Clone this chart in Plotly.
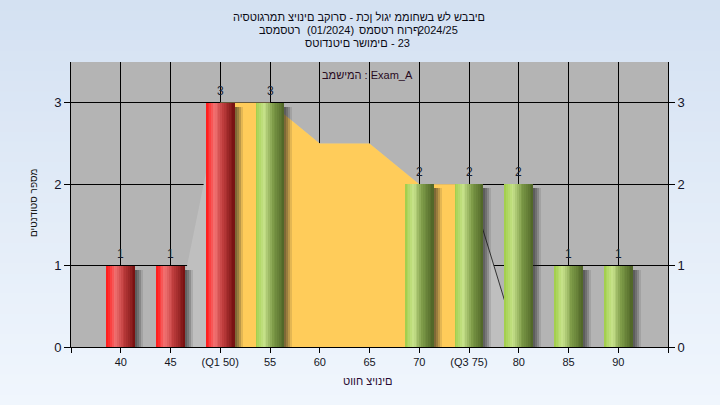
import plotly.graph_objects as go

# ---------------- data ----------------
grades = [40, 45, 50, 55, 60, 65, 70, 75, 80, 85, 90]
tick_labels = ["40", "45", "(Q1 50)", "55", "60", "65", "70", "(Q3 75)", "80", "85", "90"]
counts = [1, 1, 3, 3, 0, 0, 2, 2, 2, 1, 1]
q1 = 50
q3 = 75
iqr_x = [50, 55, 60, 65, 70, 75]
iqr_y = [3, 3, 2.5, 2.5, 2, 2]
spread_x = [45, 50, 55, 60, 65, 70, 75, 80]
spread_y = [0, 3, 3, 2.5, 2.5, 2, 2, 0]

title_line1 = "היסטוגרמת ציונים בקורס - תכן לוגי ממוחשב של שבבים"
title_line2 = ["בסמסטר", "(01/2024)", "סמסטר חורף", "2024/25"]
title_line3 = ["סטודנטים רשומים", "- 23"]
task_hebrew = "במשימה"
task_name = "Exam_A"
x_title = "טווח ציונים"
y_title = "מספר סטודנטים"

FONT = "Liberation Sans, DejaVu Sans, Arial, sans-serif"

def is_hebrew(s):
    return any("\u0590" <= ch <= "\u05ff" for ch in s)

def as_drawn(s):
    # the original draws these Hebrew strings left-to-right in written order;
    # feeding the run reversed makes the browser's bidi layout show that order
    return s[::-1] if is_hebrew(s) else s

X0, X1 = 35, 95
Y1 = 3.5
BAR_W = 2.9

fig = go.Figure()

# light spread area (behind)
fig.add_trace(go.Scatter(x=spread_x, y=spread_y, mode="lines", fill="tozeroy",
                         line=dict(width=0, color="rgba(0,0,0,0)"),
                         fillcolor="rgb(191,191,191)", hoverinfo="skip"))
# right edge line of the spread area
fig.add_trace(go.Scatter(x=spread_x[-2:], y=spread_y[-2:], mode="lines",
                         line=dict(width=1, color="rgb(50,50,50)"), hoverinfo="skip"))
# IQR yellow area
fig.add_trace(go.Scatter(x=iqr_x, y=iqr_y, mode="lines", fill="tozeroy",
                         line=dict(width=0, color="rgba(0,0,0,0)"),
                         fillcolor="rgb(255,204,90)", hoverinfo="skip"))

# shadows (on overlay axis so they sit above the areas)
for dx, a in [(0.2, 0.22), (0.4, 0.22), (0.6, 0.2), (0.8, 0.12)]:
    fig.add_trace(go.Bar(x=grades, y=[c - 0.05 if c > 0 else 0 for c in counts],
                         width=BAR_W, offset=-BAR_W / 2 + dx, yaxis="y2",
                         marker=dict(color=f"rgba(30,30,30,{a})", line=dict(width=0)),
                         hoverinfo="skip"))

# cylinder bars made of strips
red_stops = [(0.0, (255, 25, 25)), (0.08, (255, 40, 40)), (0.3, (242, 115, 115)),
             (0.6, (190, 60, 60)), (1.0, (115, 15, 15))]
green_stops = [(0.0, (158, 204, 70)), (0.08, (170, 212, 90)), (0.3, (200, 226, 140)),
               (0.6, (125, 155, 72)), (1.0, (78, 100, 38))]

def interp(stops, t):
    for (t0, c0), (t1, c1) in zip(stops[:-1], stops[1:]):
        if t0 <= t <= t1:
            f = (t - t0) / (t1 - t0) if t1 > t0 else 0
            return "rgb(%d,%d,%d)" % tuple(round(c0[i] + (c1[i] - c0[i]) * f) for i in range(3))
    return "rgb(%d,%d,%d)" % stops[-1][1]

N = 16
sw = BAR_W / N
for i in range(N):
    t = (i + 0.5) / N
    cols = [interp(red_stops if g <= q1 else green_stops, t) for g in grades]
    fig.add_trace(go.Bar(x=grades, y=counts, width=sw * 1.25 if i < N - 1 else sw,
                         offset=-BAR_W / 2 + i * sw, yaxis="y2",
                         marker=dict(color=cols, line=dict(width=0)), hoverinfo="skip"))

# background gradient bands
shapes = []
NB = 40
top = (212, 225, 242)
bot = (240, 246, 253)
y_top, y_bot = 347 / 285, -58 / 285
for i in range(NB):
    f = i / (NB - 1)
    c = tuple(round(top[j] + (bot[j] - top[j]) * f) for j in range(3))
    ya = y_top - (y_top - y_bot) * i / NB
    yb = y_top - (y_top - y_bot) * (i + 1) / NB - 0.005
    shapes.append(dict(type="rect", xref="paper", yref="paper", x0=-0.2, x1=1.2,
                       y0=yb, y1=ya, fillcolor="rgb(%d,%d,%d)" % c,
                       line=dict(width=0), layer="below"))
shapes.append(dict(type="rect", xref="x", yref="y", x0=X0, x1=X1, y0=0, y1=Y1,
                   fillcolor="rgb(180,180,180)", line=dict(width=0), layer="below"))

def px_x(p):
    return (p - 71) / 597

def px_y(p):
    return (347 - p) / 285

annotations = []
# value labels above bars
for g, c in zip(grades, counts):
    if c > 0:
        annotations.append(dict(text=str(c), x=g, y=c, xref="x", yref="y2",
                                yshift=12, showarrow=False, xanchor="center",
                                yanchor="middle",
                                font=dict(family=FONT, size=12, color="rgb(20,30,50)")))

def add_text(s, cx, cy, size=11, color="rgb(10,10,20)"):
    annotations.append(dict(text=as_drawn(s), xref="paper", yref="paper",
                            x=px_x(cx), y=px_y(cy),
                            xanchor="center", yanchor="middle", showarrow=False,
                            font=dict(family=FONT, size=size, color=color)))

add_text(title_line1, 359, 17)
for seg, cx in zip(title_line2, [279, 330, 389, 438.5]):
    add_text(seg, cx, 30)
for seg, cx in zip(title_line3, [346, 400]):
    add_text(seg, cx, 43)
annotations.append(dict(text=as_drawn(task_hebrew) + " : " + task_name,
                        xref="paper", yref="paper", x=px_x(367), y=px_y(75),
                        xanchor="center", yanchor="middle", showarrow=False,
                        font=dict(family=FONT, size=11, color="rgb(40,10,30)")))
add_text(x_title, 368, 381, size=11, color="rgb(40,10,50)")
# vertical axis title, rotated to read bottom-to-top
annotations.append(dict(text=y_title, xref="paper", yref="paper",
                        x=px_x(33), y=px_y(203), textangle=-90,
                        xanchor="center", yanchor="middle", showarrow=False,
                        font=dict(family=FONT, size=10, color="rgb(20,20,20)")))

tickvals = [X0] + grades + [X1]
ticktext = [""] + tick_labels + [""]

fig.update_layout(
    width=720, height=405,
    margin=dict(l=71, r=52, t=62, b=58),
    paper_bgcolor="rgb(226,235,247)",
    plot_bgcolor="rgba(0,0,0,0)",
    barmode="overlay", bargap=0,
    showlegend=False,
    shapes=shapes,
    annotations=annotations,
    xaxis=dict(range=[X0, X1], tickmode="array", tickvals=tickvals, ticktext=ticktext,
               showgrid=True, gridcolor="black", gridwidth=1,
               showline=True, linecolor="black", linewidth=1,
               ticks="outside", ticklen=5, tickcolor="black",
               tickfont=dict(family=FONT, size=11, color="rgb(20,20,30)"),
               zeroline=False, fixedrange=True),
    yaxis=dict(range=[0, Y1], tickvals=[0, 1, 2, 3], showgrid=True, gridcolor="black",
               gridwidth=1, showline=True, linecolor="black", linewidth=1,
               ticks="outside", ticklen=6, tickcolor="black",
               tickfont=dict(family=FONT, size=13, color="rgb(20,20,40)"),
               zeroline=False, fixedrange=True),
    yaxis2=dict(range=[0, Y1], tickvals=[0, 1, 2, 3], overlaying="y", side="right",
                showgrid=False, showline=True, linecolor="black", linewidth=1,
                ticks="outside", ticklen=6, tickcolor="black",
                tickfont=dict(family=FONT, size=13, color="rgb(20,20,40)"),
                zeroline=False, fixedrange=True),
)

fig.write_html("out.html", config={"displayModeBar": False},
               post_script="document.body.style.margin='0';document.body.style.overflow='hidden';")
